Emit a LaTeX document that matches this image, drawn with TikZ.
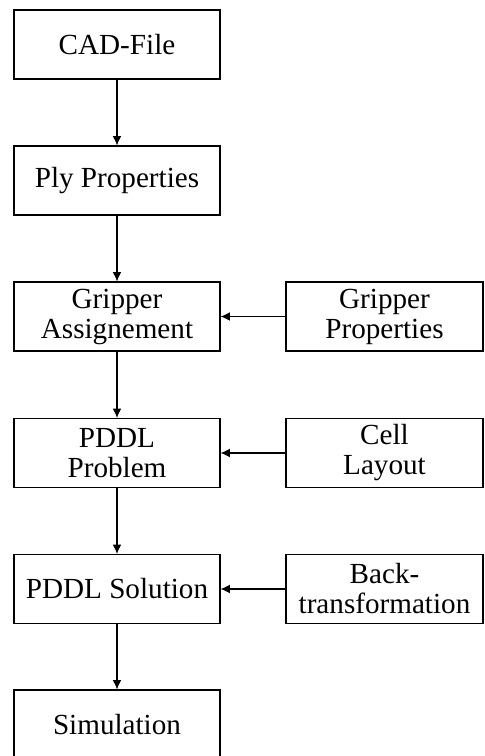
\documentclass[tikz,border=0pt]{standalone}
\IfFileExists{pplr8t.tfm}{\usepackage[T1]{fontenc}\renewcommand\rmdefault{ppl}}{\usepackage{fontspec}\setmainfont{Liberation Serif}}
\usetikzlibrary{arrows.meta}
\begin{document}
\begin{tikzpicture}[x=0.3636pt,y=-0.3636pt,
  box/.style={draw, line width=0.4pt, minimum width=74.9pt, minimum height=25.1pt,
    align=center, inner sep=0pt, font=\fontsize{10.6}{10.9}\selectfont},
  rbox/.style={box, minimum width=71.6pt},
  flow/.style={-{Latex[length=3.4pt,width=3.2pt]}, line width=0.4pt}]
\useasboundingbox (0,0) rectangle (484,756);
\node[box] (cad) at (117,44.5) {CAD-File};
\node[box] (ply) at (117,180.5) {Ply Properties};
\node[box] (ga)  at (117,316.5) {Gripper\\Assignement};
\node[box] (pp)  at (117,453) {PDDL\\Problem};
\node[box] (ps)  at (117,589) {PDDL Solution};
\node[box] (sim) at (117,724.5) {Simulation};
\node[rbox] (gp) at (384.5,316.5) {Gripper\\Properties};
\node[rbox] (cl) at (384.5,453) {Cell\\Layout};
\node[rbox] (bt) at (384.5,589) {Back-\\transformation};
\draw[flow] (cad) -- (ply);
\draw[flow] (ply) -- (ga);
\draw[flow] (ga) -- (pp);
\draw[flow] (pp) -- (ps);
\draw[flow] (ps) -- (sim);
\draw[flow] (gp) -- (ga);
\draw[flow] (cl) -- (pp);
\draw[flow] (bt) -- (ps);
\end{tikzpicture}
\end{document}
